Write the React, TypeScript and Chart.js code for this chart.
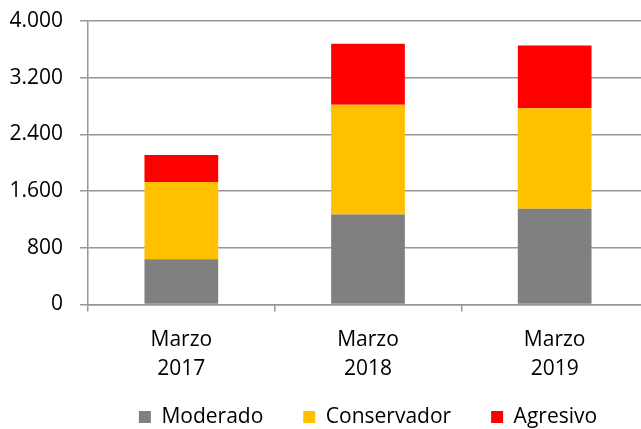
import React, { useEffect, useRef } from "react";
import { Chart, registerables } from "chart.js";

Chart.register(...registerables);

const categories: string[][] = [
  ["Marzo", "2017"],
  ["Marzo", "2018"],
  ["Marzo", "2019"],
];
const moderado = [640, 1270, 1350];
const conservador = [1090, 1550, 1420];
const agresivo = [380, 860, 885];
const yTickLabels = ["0", "800", "1.600", "2.400", "3.200", "4.000"];

const FONT = "'Open Sans', 'Noto Sans', sans-serif";
const GRID = "#969696";

export default function App() {
  const ref = useRef<HTMLCanvasElement | null>(null);
  useEffect(() => {
    document.body.style.margin = "0";
    const canvas = ref.current;
    if (!canvas) return;
    const chart = new Chart(canvas, {
      type: "bar",
      data: {
        labels: categories,
        datasets: [
          { label: "Moderado", data: moderado, backgroundColor: "#808080" },
          { label: "Conservador", data: conservador, backgroundColor: "#FFC000" },
          { label: "Agresivo", data: agresivo, backgroundColor: "#FF0000" },
        ],
      },
      options: {
        responsive: false,
        animation: false,
        devicePixelRatio: 1,
        layout: { padding: { top: 21, bottom: -8.5, left: 0, right: 0 } },
        datasets: {
          bar: { barPercentage: 0.395, categoryPercentage: 1, borderWidth: 0 },
        },
        plugins: {
          tooltip: { enabled: false },
          legend: {
            position: "bottom",
            fullSize: false,
            labels: {
              boxWidth: 12,
              boxHeight: 12,
              padding: 40,
              color: "#000",
              font: { family: FONT, size: 21 },
            },
          },
        },
        scales: {
          x: {
            stacked: true,
            afterFit: (s: any) => {
              s.height = 62;
            },
            grid: {
              display: true,
              drawOnChartArea: false,
              drawTicks: true,
              tickLength: 7,
              color: GRID,
              lineWidth: 1.5,
            },
            border: { display: true, color: GRID, width: 1.5 },
            ticks: {
              color: "#000",
              mirror: true,
              padding: -49.7,
              maxRotation: 0,
              font: { family: FONT, size: 21, lineHeight: 1.367 },
            },
          },
          y: {
            stacked: true,
            min: 0,
            max: 4000,
            afterFit: (s: any) => {
              s.width = 88;
              s.paddingTop = 0;
              s.paddingBottom = 0;
            },
            grid: {
              color: GRID,
              lineWidth: 1.5,
              drawTicks: true,
              tickLength: 8,
            },
            border: { display: true, color: GRID, width: 1.5 },
            ticks: {
              stepSize: 800,
              color: "#000",
              padding: 17,
              font: { family: FONT, size: 21 },
              callback: (_v: any, i: number) => yTickLabels[i],
            },
          },
        },
      },
    });
    return () => chart.destroy();
  }, []);
  return (
    <div
      style={{
        position: "absolute",
        left: 0,
        top: 0,
        width: 641,
        height: 429,
        overflow: "hidden",
      }}
    >
      <canvas ref={ref} width={648} height={429} style={{ display: "block" }} />
    </div>
  );
}
